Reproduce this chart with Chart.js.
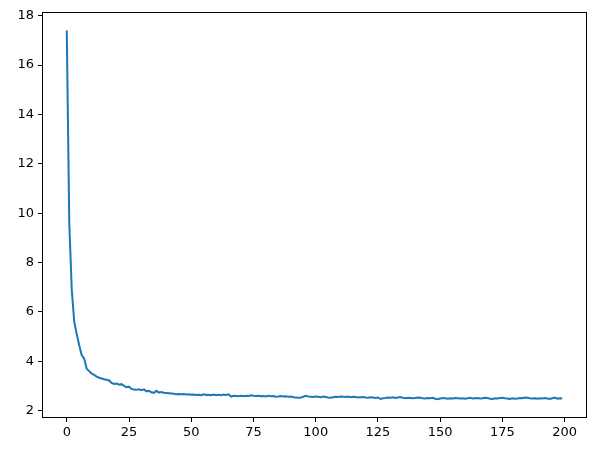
<!DOCTYPE html>
<html>
<head>
<meta charset="utf-8">
<script src="https://cdn.jsdelivr.net/npm/chart.js@4/dist/chart.umd.min.js"></script>
<style>
html,body{margin:0;padding:0;background:#fff;}
#wrap{width:595px;height:450px;}
</style>
</head>
<body>
<div id="wrap"><canvas id="c" width="595" height="450"></canvas></div>
<script>
const lossValues = [
17.4, 9.6, 6.9, 5.6, 5.1, 4.65, 4.25, 4.1, 3.7, 3.6, 3.5, 3.45, 3.38, 3.33, 3.3, 3.27, 3.25, 3.22, 3.12, 3.08, 3.1,
3.05, 3.07, 3.0, 2.95, 2.97, 2.88, 2.85, 2.84, 2.86, 2.83, 2.86, 2.78, 2.8, 2.74, 2.72, 2.8, 2.73, 2.75, 2.72, 2.71,
2.7, 2.69, 2.68, 2.66, 2.67, 2.66, 2.67, 2.65, 2.66, 2.64, 2.65, 2.63, 2.64, 2.62, 2.66, 2.63, 2.64, 2.62, 2.65, 2.62,
2.64, 2.62, 2.65, 2.63, 2.66, 2.57, 2.6, 2.59, 2.58, 2.6, 2.58, 2.6, 2.59, 2.62, 2.6, 2.59, 2.6, 2.58, 2.59, 2.57,
2.6, 2.58, 2.59, 2.56, 2.57, 2.59, 2.57, 2.58, 2.56, 2.57, 2.54, 2.53, 2.52, 2.53, 2.56, 2.6, 2.57, 2.56, 2.55, 2.57,
2.56, 2.54, 2.57, 2.55, 2.53, 2.52, 2.54, 2.56, 2.55, 2.57, 2.56, 2.55, 2.57, 2.54, 2.56, 2.55, 2.53, 2.54, 2.55, 2.53,
2.52, 2.54, 2.53, 2.51, 2.53, 2.47, 2.5, 2.51, 2.53, 2.52, 2.54, 2.51, 2.53, 2.55, 2.52, 2.5, 2.52, 2.51, 2.5, 2.51,
2.53, 2.52, 2.5, 2.49, 2.51, 2.5, 2.52, 2.48, 2.46, 2.49, 2.51, 2.5, 2.48, 2.5, 2.49, 2.51, 2.5, 2.49, 2.5, 2.48,
2.5, 2.52, 2.49, 2.5, 2.51, 2.49, 2.5, 2.52, 2.51, 2.48, 2.47, 2.5, 2.49, 2.51, 2.52, 2.5, 2.49, 2.47, 2.5, 2.48,
2.49, 2.51, 2.5, 2.53, 2.52, 2.5, 2.49, 2.5, 2.48, 2.5, 2.49, 2.51, 2.49, 2.47, 2.5, 2.53, 2.48, 2.5, 2.49
];
const xTicks = [0, 25, 50, 75, 100, 125, 150, 175, 200];
const yTicks = [2, 4, 6, 8, 10, 12, 14, 16, 18];

const points = lossValues.map((v, i) => ({x: i, y: v}));

const frame = {
  id: 'frame',
  afterDraw(chart) {
    const a = chart.chartArea, ctx = chart.ctx;
    ctx.save();
    ctx.strokeStyle = '#000';
    ctx.lineWidth = 1;
    ctx.strokeRect(Math.round(a.left) + 0.5, Math.round(a.top) + 0.5,
                   Math.round(a.right - a.left) - 1, Math.round(a.bottom - a.top) - 1);
    ctx.restore();
  }
};

const font = {family: 'DejaVu Sans', size: 13};

new Chart(document.getElementById('c'), {
  type: 'line',
  data: {
    datasets: [{
      data: points,
      borderColor: '#1f77b4',
      borderWidth: 2,
      pointRadius: 0,
      tension: 0,
      fill: false
    }]
  },
  options: {
    responsive: false,
    animation: false,
    layout: {padding: {top: 12, right: 8, left: 0, bottom: 0}},
    plugins: {legend: {display: false}, tooltip: {enabled: false}},
    scales: {
      x: {
        type: 'linear',
        min: -9.95,
        max: 208.95,
        afterBuildTicks(s) { s.ticks = xTicks.map(v => ({value: v})); },
        afterFit(s) { s.height = 32; },
        grid: {drawOnChartArea: false, tickLength: 4, tickColor: '#000', color: '#000'},
        border: {display: false},
        ticks: {color: '#000', font, padding: 3, maxRotation: 0, autoSkip: false,
                callback: v => String(v)}
      },
      y: {
        type: 'linear',
        min: 1.70,
        max: 18.15,
        afterBuildTicks(s) { s.ticks = yTicks.map(v => ({value: v})); },
        afterFit(s) { s.width = 42; },
        grid: {drawOnChartArea: false, tickLength: 4, tickColor: '#000', color: '#000'},
        border: {display: false},
        ticks: {color: '#000', font, padding: 4, autoSkip: false,
                callback: v => String(v)}
      }
    }
  },
  plugins: [frame]
});
</script>
</body>
</html>
